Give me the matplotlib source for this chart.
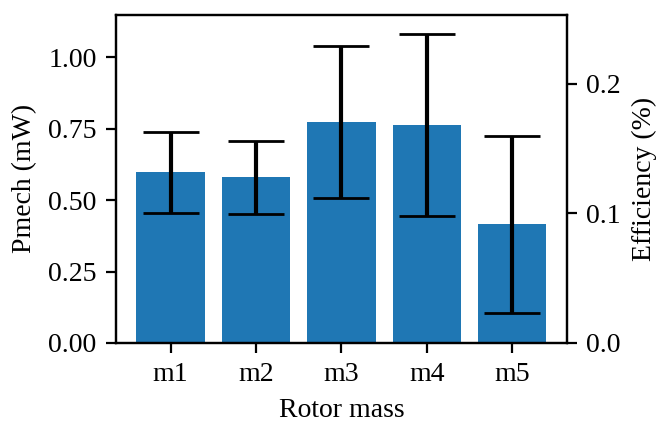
import matplotlib
matplotlib.use("Agg")
import matplotlib.pyplot as plt

plt.rcParams["font.family"] = ["Liberation Serif", "DejaVu Serif"]
plt.rcParams["font.size"] = 10

masses = ["m1", "m2", "m3", "m4", "m5"]
pmech = [0.597, 0.580, 0.775, 0.763, 0.415]
pmech_err = [0.143, 0.127, 0.266, 0.319, 0.310]

fig = plt.figure(figsize=(3.295, 2.13), dpi=200)
ax = fig.add_axes([0.176, 0.195, 0.684, 0.77])

ax.bar(masses, pmech, width=0.8, color="#1f77b4", yerr=pmech_err,
       error_kw=dict(ecolor="black", capsize=10))
ax.set_ylim(0, 1.149)
ax.set_yticks([0, 0.25, 0.5, 0.75, 1.0])
ax.set_yticklabels(["0.00", "0.25", "0.50", "0.75", "1.00"])
ax.set_xlabel("Rotor mass")
ax.set_ylabel("Pmech (mW)")

ax2 = ax.twinx()
ax2.set_ylim(0, 0.253)
ax2.set_yticks([0.0, 0.1, 0.2])
ax2.set_ylabel("Efficiency (%)")

plt.savefig("out.png", dpi=200)
